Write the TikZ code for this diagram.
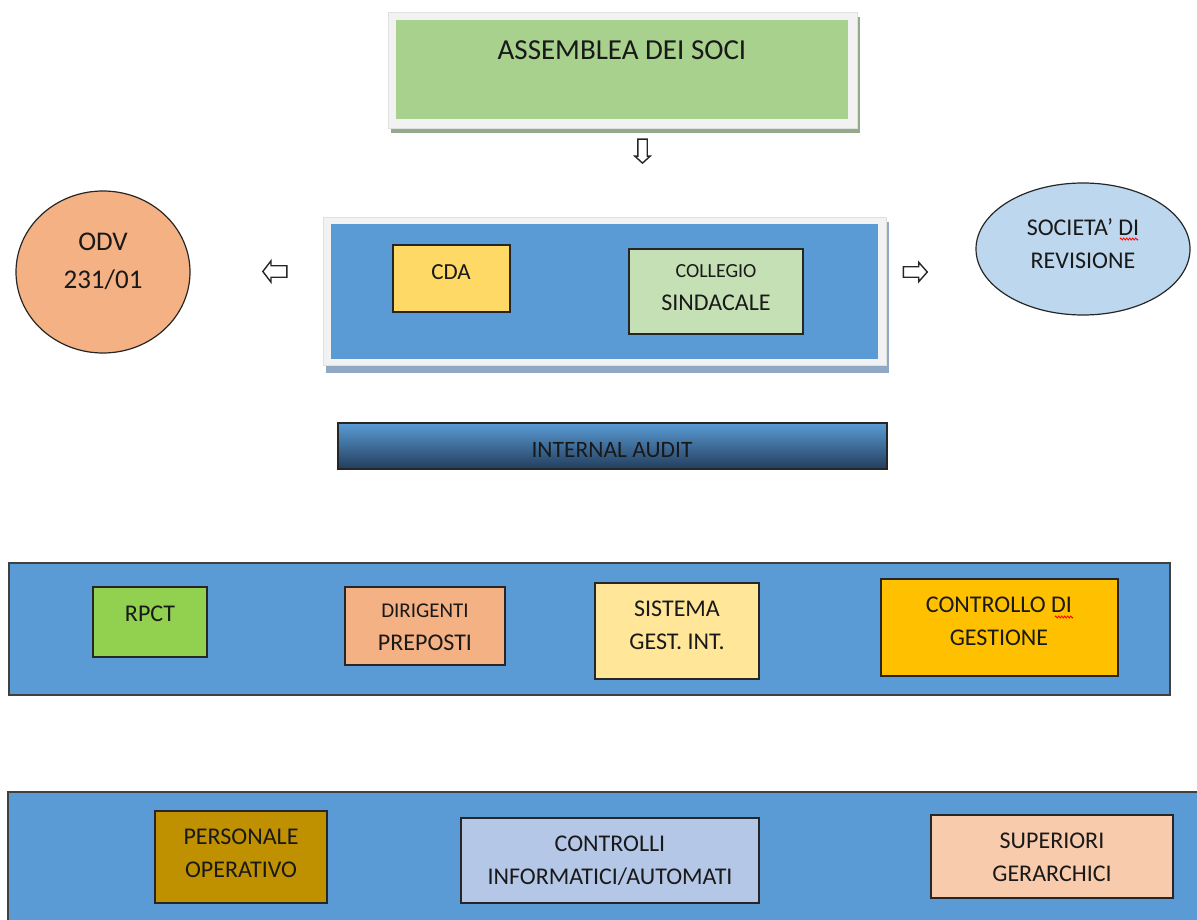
\documentclass[tikz,border=0pt]{standalone}
\usepackage{fontspec}
\setmainfont{Carlito}
\usetikzlibrary{positioning,shapes.geometric,shapes.arrows,decorations.pathmorphing}

\definecolor{verdesoci}{HTML}{A9D18E}
\definecolor{ombraverde}{HTML}{93AB8C}
\definecolor{ombrablu}{HTML}{8FA8C4}
\definecolor{blu}{HTML}{5B9BD5}
\definecolor{blunotte}{HTML}{223E5C}
\definecolor{salmone}{HTML}{F4B183}
\definecolor{giallocda}{HTML}{FFD966}
\definecolor{verdechiaro}{HTML}{C5E0B4}
\definecolor{azzurro}{HTML}{BDD7EE}
\definecolor{verderpct}{HTML}{92D050}
\definecolor{crema}{HTML}{FFE699}
\definecolor{arancio}{HTML}{FFC000}
\definecolor{ocra}{HTML}{BF9000}
\definecolor{lavanda}{HTML}{B4C7E7}
\definecolor{pesca}{HTML}{F8CBAD}

\newcommand{\corpo}[1]{\fontsize{#1}{33}\selectfont}

\begin{document}
\begin{tikzpicture}[x=1pt, y=-1pt,
            riquadro/.style={rectangle, draw=black!85, line width=1.4pt, inner sep=0pt},
            cornice/.style={rectangle, fill=black!5, draw=black!12, line width=0.6pt, inner sep=0pt},
            fascia/.style={rectangle, fill=blu, draw=black!75, line width=1.6pt, inner sep=0pt},
            ovale/.style={ellipse, draw=black!85, line width=1.2pt, inner sep=0pt},
            testo/.style={align=center, inner sep=0pt, text=black!90, font=\corpo{24}},
            freccia/.style={single arrow, draw=black!85, fill=white, line width=1.4pt,
                            minimum width=0pt, minimum height=24pt},
            sottolineato/.style={red, line width=0.8pt, decorate,
                                 decoration={zigzag, segment length=3pt, amplitude=1pt}},]

        \useasboundingbox (0,0) rectangle (1197,920);
        \clip (0,0) rectangle (1197,920);

        % Assemblea
        \fill[ombraverde] (391,17) rectangle (860,133);
        \node[cornice, minimum width=469pt, minimum height=116pt] (cornicesoci) at (622.5,70) {};
        \node[rectangle, fill=verdesoci, minimum width=452pt, minimum height=99pt] (assemblea) at (622,69.5) {};
        \node[testo, font=\corpo{29}] (tassemblea) at (622,50) {ASSEMBLEA DEI SOCI};

        \node[freccia, shape border rotate=270, inner sep=4pt, single arrow head extend=3pt,
              single arrow tip angle=95] (giu) at (642.5,149) {};

        % Consiglio e collegio
        \fill[ombrablu] (326,222) rectangle (889,373);
        \node[cornice, minimum width=563pt, minimum height=148pt] (cornicecda) at (604.5,291) {};
        \node[rectangle, fill=blu, minimum width=547pt, minimum height=135pt] (vertice) at (604.5,291.5) {};

        \node[riquadro, fill=giallocda, minimum width=117pt, minimum height=67pt] (cda) at (451.5,278.5) {};
        \node[testo, font=\corpo{23}] (tcda) at (451,272) {CDA};

        \node[riquadro, fill=verdechiaro, minimum width=174pt, minimum height=85pt] (collegio) at (716,291.5) {};
        \node[testo] (tcollegio) at (716,287.5) {{\corpo{20}COLLEGIO}\\SINDACALE};

        % Organismi laterali
        \node[ovale, fill=salmone, minimum width=174pt, minimum height=162pt] (odv) at (103,272) {};
        \node[testo, font=\fontsize{27}{38}\selectfont] (todv) at (103,261) {ODV\\231/01};

        \node[ovale, fill=azzurro, minimum width=214pt, minimum height=132pt] (societa) at (1083,249) {};
        \node[testo] (tsocieta) at (1083,243.5) {SOCIETA’ DI\\REVISIONE};
        \draw[sottolineato] (1120,239) -- (1138,239);

        \node[freccia, shape border rotate=180, inner sep=5pt, single arrow head extend=5pt,
              single arrow tip angle=105] (sinistra) at (277,271.5) {};
        \node[freccia, inner sep=4.5pt, single arrow head extend=4.5pt,
              single arrow tip angle=97] (destra) at (913,272) {};

        % Internal audit
        \node[rectangle, draw=black!85, line width=1.2pt, top color=blu, bottom color=blunotte,
              minimum width=549pt, minimum height=46pt] (audit) at (612.5,446) {};
        \node[testo, font=\corpo{23.5}] (taudit) at (612,450) {INTERNAL AUDIT};

        % Secondo livello
        \node[fascia, minimum width=1161pt, minimum height=132pt] (livello2) at (589.5,629) {};

        \node[riquadro, fill=verderpct, minimum width=114pt, minimum height=70pt] (rpct) at (150,622) {};
        \node[testo] (trpct) at (150,614) {RPCT};

        \node[riquadro, fill=salmone, minimum width=160pt, minimum height=78pt] (dirigenti) at (425,626) {};
        \node[testo] (tdirigenti) at (425,627.5) {{\corpo{21}DIRIGENTI}\\PREPOSTI};

        \node[riquadro, fill=crema, minimum width=164pt, minimum height=96pt] (sistema) at (677,631) {};
        \node[testo] (tsistema) at (677,625) {SISTEMA\\GEST. INT.};

        \node[riquadro, fill=arancio, minimum width=237pt, minimum height=97pt] (controllo) at (999.5,627.5) {};
        \node[testo] (tcontrollo) at (999,621.5) {CONTROLLO DI\\GESTIONE};
        \draw[sottolineato] (1055,617) -- (1073,617);

        % Primo livello
        \node[fascia, minimum width=1202pt, minimum height=143pt] (livello1) at (609,863.5) {};

        \node[riquadro, fill=ocra, minimum width=172pt, minimum height=92pt] (personale) at (241,857) {};
        \node[testo] (tpersonale) at (241,853) {PERSONALE\\OPERATIVO};

        \node[riquadro, fill=lavanda, minimum width=298pt, minimum height=85pt] (controlli) at (610,860.5) {};
        \node[testo] (tcontrolli) at (610,861) {CONTROLLI\\INFORMATICI/AUTOMATI};

        \node[riquadro, fill=pesca, minimum width=242pt, minimum height=83pt] (superiori) at (1052,856.5) {};
        \node[testo] (tsuperiori) at (1052,857.5) {SUPERIORI\\GERARCHICI};
    \end{tikzpicture}
\end{document}
